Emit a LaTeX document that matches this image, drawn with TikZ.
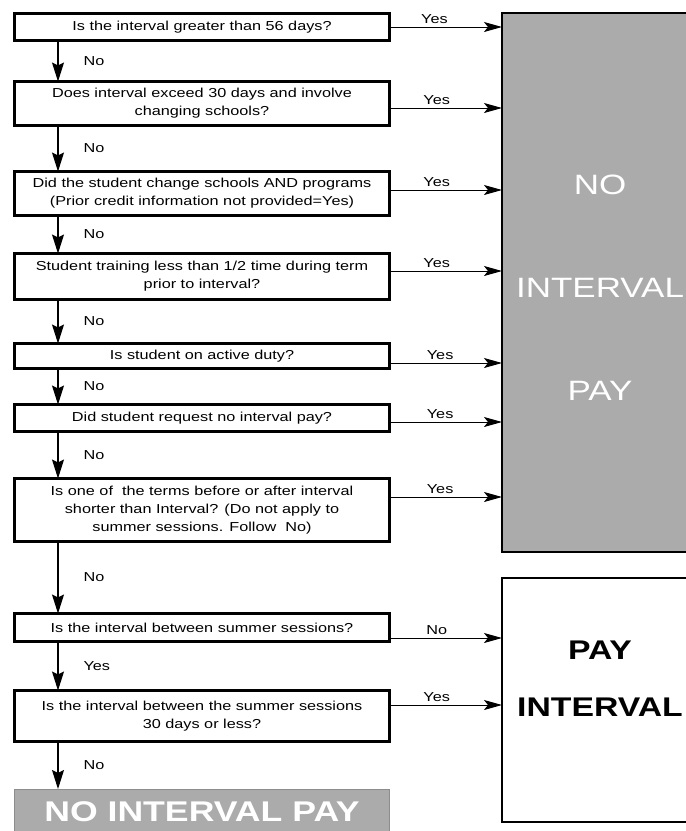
\documentclass[tikz,border=0pt]{standalone}
\usepackage{fontspec}
\setmainfont{Liberation Sans}[FakeStretch=1.25]
\usetikzlibrary{arrows.meta}
\definecolor{paygray}{RGB}{171,171,171}

\begin{document}
\begin{tikzpicture}[x=1pt, y=-1pt,
        question/.style={draw, line width=2.6pt, outer sep=0pt, rectangle, align=center, minimum width=375pt, inner sep=2pt, font=\fontsize{13}{18}\selectfont},
        result/.style={draw, line width=2pt, outer sep=0pt, rectangle, align=center, minimum width=196pt},
        flowdown/.style={line width=1.2pt, -{Stealth[length=19pt, width=12pt, inset=3pt]}},
        flowright/.style={line width=1pt, -{Stealth[length=18pt, width=10pt, inset=4pt]}},
        lbl/.style={font=\fontsize{13}{15}\selectfont, inner sep=3pt}]
        \useasboundingbox (0,0) rectangle (686,831);

        \node (greater) [question, minimum height=27pt] at (202,27) {Is the interval greater than 56 days?};
        \node (exceed) [question, minimum height=44pt] at (202,103.5) {Does interval exceed 30 days and involve\\changing schools?};
        \node (change) [question, minimum height=44pt] at (202,193.5) {Did the student change schools AND programs\\(Prior credit information not provided=Yes)};
        \node (halftime) [question, minimum height=46pt] at (202,276.5) {Student training less than 1/2 time during term\\prior to interval?};
        \node (active) [question, minimum height=25pt] at (202,356) {Is student on active duty?};
        \node (request) [question, minimum height=27pt] at (202,418) {Did student request no interval pay?};
        \node (shorter) [question, minimum height=63pt] at (202,510) {Is one of\ \ the terms before or after interval\\shorter than Interval? (Do not apply to\\summer sessions. Follow\ \ No)};
        \node (summer) [question, minimum height=28pt] at (202,627.5) {Is the interval between summer sessions?};
        \node (less30) [question, minimum height=51pt] at (202,716) {Is the interval between the summer sessions\\30 days or less?};
        \node (endnopay) [draw=black!45, line width=1pt, outer sep=0pt, fill=paygray, minimum width=375pt, minimum height=46pt, text=white, font=\fontsize{28.5}{30}\selectfont\bfseries] at (202,812) {NO INTERVAL PAY};

        \node (nopay) [result, fill=paygray, minimum height=539pt, text=white, font=\fontsize{28}{103}\selectfont] at (600,282.5) {\mbox{}\\[-73pt]NO\\INTERVAL\\PAY};
        \node (pay) [result, fill=white, minimum height=244pt, font=\fontsize{27}{57}\selectfont\bfseries] at (600,700) {PAY\\INTERVAL\\[-14pt]\mbox{}};

        \draw[flowdown] ([xshift=43.5]greater.south west) -- ([xshift=43.5]exceed.north west) node[lbl, midway, right=22pt] {No};
        \draw[flowdown] ([xshift=43.5]exceed.south west) -- ([xshift=43.5]change.north west) node[lbl, midway, right=22pt] {No};
        \draw[flowdown] ([xshift=43.5]change.south west) -- ([xshift=43.5]halftime.north west) node[lbl, midway, right=22pt] {No};
        \draw[flowdown] ([xshift=43.5]halftime.south west) -- ([xshift=43.5]active.north west) node[lbl, midway, right=22pt] {No};
        \draw[flowdown] ([xshift=43.5]active.south west) -- ([xshift=43.5]request.north west) node[lbl, midway, right=22pt] {No};
        \draw[flowdown] ([xshift=43.5]request.south west) -- ([xshift=43.5]shorter.north west) node[lbl, midway, right=22pt] {No};
        \draw[flowdown] ([xshift=43.5]shorter.south west) -- ([xshift=43.5]summer.north west) node[lbl, midway, right=22pt] {No};
        \draw[flowdown] ([xshift=43.5]summer.south west) -- ([xshift=43.5]less30.north west) node[lbl, midway, right=22pt] {Yes};
        \draw[flowdown] ([xshift=43.5]less30.south west) -- ([xshift=43.5]endnopay.north west) node[lbl, midway, right=22pt] {No};

        \draw[flowright] (greater.east) coordinate (a1) -- (a1 -| nopay.west) node[lbl, above, pos=0.4] {Yes};
        \draw[flowright] ([yshift=-4.5]exceed.east) coordinate (a2) -- (a2 -| nopay.west) node[lbl, above, pos=0.42] {Yes};
        \draw[flowright] ([yshift=3.5]change.east) coordinate (a3) -- (a3 -| nopay.west) node[lbl, above, pos=0.42] {Yes};
        \draw[flowright] ([yshift=5.5]halftime.east) coordinate (a4) -- (a4 -| nopay.west) node[lbl, above, pos=0.42] {Yes};
        \draw[flowright] ([yshift=-7]active.east) coordinate (a5) -- (a5 -| nopay.west) node[lbl, above, pos=0.45] {Yes};
        \draw[flowright] ([yshift=-4]request.east) coordinate (a6) -- (a6 -| nopay.west) node[lbl, above, pos=0.45] {Yes};
        \draw[flowright] ([yshift=13]shorter.east) coordinate (a7) -- (a7 -| nopay.west) node[lbl, above, pos=0.45] {Yes};
        \draw[flowright] ([yshift=-10.5]summer.east) coordinate (a8) -- (a8 -| pay.west) node[lbl, above, pos=0.42] {No};
        \draw[flowright] ([yshift=11]less30.east) coordinate (a9) -- (a9 -| pay.west) node[lbl, above, pos=0.42] {Yes};
    \end{tikzpicture}
\end{document}
